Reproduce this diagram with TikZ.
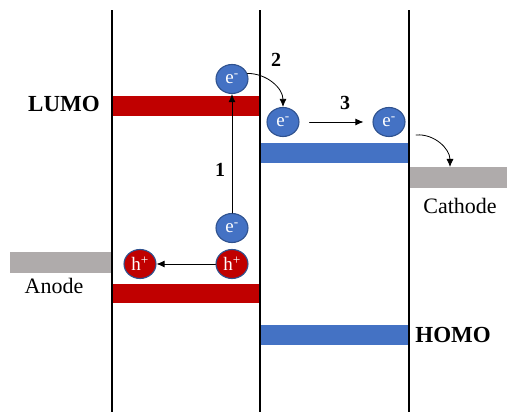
\documentclass[tikz,border=0pt]{standalone}
\usepackage{fontspec}
\setmainfont{Liberation Serif}
\usetikzlibrary{shapes.geometric,arrows.meta}
\definecolor{lumored}{HTML}{C00000}
\definecolor{levelblue}{HTML}{4472C4}
\definecolor{rimblue}{HTML}{2F528F}
\definecolor{electrode}{HTML}{AFABAB}
\begin{document}
\begin{tikzpicture}[x=1pt,y=1pt,line width=.8pt,>={Latex[length=8pt,width=7pt]},
 line cap=round,line join=round,font=\fontsize{22}{25}\selectfont,
 particle/.style={ellipse,draw=rimblue,line width=1.1pt,minimum width=32pt,
   minimum height=29pt,inner sep=0pt,text=white,font=\fontsize{19}{20}\selectfont},
 electron/.style={particle,fill=levelblue},
 hole/.style={particle,fill=lumored},
 levellabel/.style={font=\fontsize{23}{26}\selectfont\bfseries,inner sep=0pt},
 steplabel/.style={font=\fontsize{20}{22}\selectfont\bfseries,inner sep=1pt}]
\useasboundingbox (0,0) rectangle (507,412);
\fill[lumored] (112,296) rectangle (261,316);
\fill[lumored] (112,109) rectangle (261,128);
\fill[levelblue] (260,249) rectangle (409,269);
\fill[levelblue] (260,67) rectangle (409,87);
\fill[electrode] (409,224) rectangle (507,245);
\fill[electrode] (10,139) rectangle (112,160);
\draw[line width=1.1pt,line cap=butt] (112,0)--(112,402);
\draw[line width=1.1pt,line cap=butt] (260,0)--(260,402);
\draw[line width=1.1pt,line cap=butt] (409,0)--(409,402);
\node[levellabel] (lumo) at (64,308) {LUMO};
\node[levellabel,anchor=west] (homo) at (415,77) {HOMO};
\node (cathode) at (460,206) {Cathode};
\node (anode) at (54,126) {Anode};
\node[electron] (eA) at (232,333) {e\textsuperscript{-}};
\node[electron] (eB) at (283,290) {e\textsuperscript{-}};
\node[electron] (eC) at (389,290) {e\textsuperscript{-}};
\node[electron] (eD) at (232,184) {e\textsuperscript{-}};
\node[hole] (hA) at (232,148) {h\textsuperscript{+}};
\node[hole] (hB) at (140,148) {h\textsuperscript{+}};
\coordinate (leave) at (416,277);
\coordinate (arrive) at (450,245);
\draw[->] (eD)--(eA);
\draw[->] (hA)--(hB);
\draw[->,shorten <=10pt,shorten >=9pt] (eB)--(eC);
\draw[->] (eA.20) to[out=0,in=90] (eB.north);
\draw[->] (leave) to[out=5,in=90] (arrive);
\node[steplabel] (one) at (220,242) {1};
\node[steplabel] (two) at (276,352) {2};
\node[steplabel] (three) at (345,309) {3};
\end{tikzpicture}
\end{document}
